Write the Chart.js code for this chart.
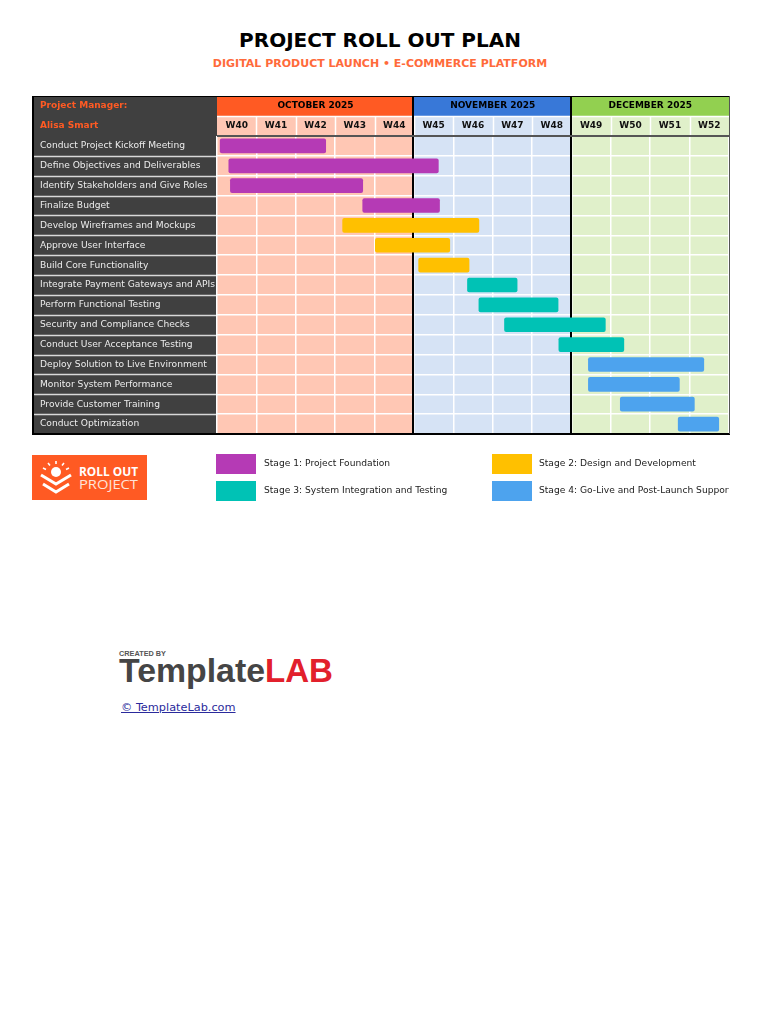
<!DOCTYPE html>
<html lang="en">
<head>
    <meta charset="UTF-8">
    <title>Project Roll Out Plan</title>
    <script src="https://cdn.jsdelivr.net/npm/chart.js@4/dist/chart.umd.min.js"></script>
    <style>
        body { margin: 0; background: #ffffff; font-family: "DejaVu Sans", sans-serif; }
        #page { position: relative; width: 768px; height: 1024px; overflow: hidden; }
        .title { position: absolute; left: 0; width: 760px; text-align: center; }
        #mainTitle { top: 27px; font-size: 20px; font-weight: bold; color: #000; line-height: 26px; }
        #subTitle { top: 57px; font-size: 11px; font-weight: bold; color: #ff6a3a; line-height: 14px; }
        #chartBox { position: absolute; left: 30px; top: 94px; width: 702px; height: 342px; }
        .swatch { position: absolute; width: 40px; height: 20px; }
        .legendText { position: absolute; font-size: 9.15px; line-height: 20px; color: #222; white-space: nowrap; }
        #legend { position: absolute; left: 0; top: 0; width: 729px; height: 520px; overflow: hidden; }
        #siteLink { position: absolute; left: 121px; top: 701px; font-size: 11.3px; color: #2a2a9c; text-decoration: underline; }
        svg { position: absolute; }
    </style>
</head>
<body>
<div id="page">
    <div class="title" id="mainTitle">PROJECT ROLL OUT PLAN</div>
    <div class="title" id="subTitle">DIGITAL PRODUCT LAUNCH • E-COMMERCE PLATFORM</div>
    <div id="chartBox"><canvas id="ganttChart"></canvas></div>
    <div id="legend"></div>

    <svg style="left:32px;top:455px" width="115" height="45" viewBox="0 0 115 45">
        <rect width="115" height="45" fill="#ff5a23"/>
        <circle cx="24" cy="17" r="5" fill="#fff"/>
        <g stroke="#fff" stroke-width="1.6" fill="none">
            <path d="M24 6v3M16 8l2 2.5M32 8l-2 2.5M11 13l3 1.5M37 13l-3 1.5"/>
            <path d="M9 20l15 9 15-9" stroke-width="3"/>
            <path d="M11 29l13 8 13-8" stroke-width="3"/>
        </g>
        <text x="47" y="21" font-family="'Open Sans'" font-weight="bold" font-size="13" fill="#fff" textLength="59" lengthAdjust="spacingAndGlyphs">ROLL OUT</text>
        <text x="47" y="34" font-family="'Open Sans'" font-size="13" fill="#ffe3d8" textLength="59" lengthAdjust="spacingAndGlyphs">PROJECT</text>
    </svg>

    <svg style="left:110px;top:645px" width="235" height="50" viewBox="0 0 235 50">
        <text x="9" y="11" font-family="'Liberation Sans'" font-weight="bold" font-size="7" fill="#555" textLength="47" lengthAdjust="spacingAndGlyphs">CREATED BY</text>
        <text x="9" y="37" font-family="'Liberation Sans'" font-weight="bold" font-size="33" fill="#454545" textLength="146" lengthAdjust="spacingAndGlyphs">Template</text>
        <text x="155" y="37" font-family="'Liberation Sans'" font-weight="bold" font-size="33" fill="#e2202c" textLength="68" lengthAdjust="spacingAndGlyphs">LAB</text>
    </svg>
    <div id="siteLink">© TemplateLab.com</div>
</div>

<script>
        const tasks = [
            'Conduct Project Kickoff Meeting',
            'Define Objectives and Deliverables',
            'Identify Stakeholders and Give Roles',
            'Finalize Budget',
            'Develop Wireframes and Mockups',
            'Approve User Interface',
            'Build Core Functionality',
            'Integrate Payment Gateways and APIs',
            'Perform Functional Testing',
            'Security and Compliance Checks',
            'Conduct User Acceptance Testing',
            'Deploy Solution to Live Environment',
            'Monitor System Performance',
            'Provide Customer Training',
            'Conduct Optimization'
        ];
        // bar start and end, in weeks counted from the start of W40
        const startWeek = [0.08, 0.30, 0.34, 3.70, 3.19, 4.02, 5.12, 6.36, 6.65, 7.30, 8.68, 9.43, 9.43, 10.24, 11.71];
        const endWeek = [2.76, 5.62, 3.70, 5.65, 6.65, 5.91, 6.40, 7.62, 8.66, 9.86, 10.33, 12.36, 11.74, 12.12, 12.74];
        const taskStage = [0, 0, 0, 0, 1, 1, 1, 2, 2, 2, 2, 3, 3, 3, 3];

        const weeks = ['W40', 'W41', 'W42', 'W43', 'W44', 'W45', 'W46', 'W47', 'W48', 'W49', 'W50', 'W51', 'W52'];
        const months = ['OCTOBER 2025', 'NOVEMBER 2025', 'DECEMBER 2025'];
        const monthWeeks = [5, 4, 4];
        const monthColors = ['#ff5a23', '#3878d8', '#92d050'];
        const monthTints = ['#ffc7b4', '#d6e3f5', '#e0f0ca'];

        const stages = [
            'Stage 1: Project Foundation',
            'Stage 2: Design and Development',
            'Stage 3: System Integration and Testing',
            'Stage 4: Go-Live and Post-Launch Support'
        ];
        const stageColors = ['#b53ab5', '#ffc000', '#00c2b5', '#4da3ee'];

        // legend under the table, two columns and two rows
        const legend = document.getElementById('legend');
        stages.forEach((name, k) => {
            const left = k % 2 ? 492 : 216;
            const top = k < 2 ? 454 : 481;
            const textLeft = k % 2 ? 539 : 264;
            legend.innerHTML += `<div class="swatch" style="left:${left}px;top:${top}px;background:${stageColors[k]}"></div>` +
                `<div class="legendText" style="left:${textLeft}px;top:${top - 1}px">${name}</div>`;
        });

        const headerPlugin = {
            id: 'headerPlugin',
            beforeDraw(chart) {
                const { ctx, chartArea, scales } = chart;
                const x = scales.x;
                const y = scales.y;
                const top = chartArea.top - 40;
                const labelLeft = 3;
                ctx.save();

                // task column and its two header rows
                ctx.fillStyle = '#404040';
                ctx.fillRect(labelLeft, top, chartArea.left - labelLeft, chartArea.bottom - top);
                ctx.font = 'bold 9px "DejaVu Sans"';
                ctx.fillStyle = '#ff5a23';
                ctx.textAlign = 'left';
                ctx.textBaseline = 'middle';
                ctx.fillText('Project Manager:', 10, top + 10);
                ctx.fillText('Alisa Smart', 10, top + 30);

                // month bands
                let first = 0;
                months.forEach((name, m) => {
                    const from = x.getPixelForValue(first);
                    const to = x.getPixelForValue(first + monthWeeks[m]);
                    ctx.fillStyle = monthTints[m];
                    ctx.fillRect(from, top + 20, to - from, chartArea.bottom - top - 20);
                    ctx.fillStyle = monthColors[m];
                    ctx.fillRect(from, top, to - from, 20);
                    ctx.fillStyle = '#000';
                    ctx.textAlign = 'center';
                    ctx.fillText(name, (from + to) / 2, top + 10);
                    first += monthWeeks[m];
                });

                // row lines through the task column
                ctx.strokeStyle = '#d8d8d8';
                ctx.lineWidth = 1.5;
                tasks.forEach((t, i) => {
                    if (i === 0) return;
                    const py = Math.round((y.getPixelForValue(i - 1) + y.getPixelForValue(i)) / 2) + 0.5;
                    ctx.beginPath();
                    ctx.moveTo(labelLeft, py);
                    ctx.lineTo(chartArea.left, py);
                    ctx.stroke();
                });
                ctx.restore();
            },
            beforeDatasetsDraw(chart) {
                const { ctx, chartArea, scales } = chart;
                const x = scales.x;
                const top = chartArea.top - 40;
                ctx.save();

                // white line under the month row
                ctx.strokeStyle = '#ffffff';
                ctx.lineWidth = 1.5;
                ctx.beginPath();
                ctx.moveTo(chartArea.left, top + 20.5);
                ctx.lineTo(chartArea.right, top + 20.5);
                ctx.stroke();
                for (let w = 1; w < weeks.length; w++) {
                    const px = Math.round(x.getPixelForValue(w)) + 0.5;
                    ctx.beginPath();
                    ctx.moveTo(px, top + 20);
                    ctx.lineTo(px, chartArea.top);
                    ctx.stroke();
                }

                // table frame
                ctx.strokeStyle = '#000';
                ctx.lineWidth = 2;
                let first = 0;
                monthWeeks.slice(0, 2).forEach(n => {
                    first += n;
                    const px = Math.floor(x.getPixelForValue(first));
                    ctx.beginPath();
                    ctx.moveTo(px, top);
                    ctx.lineTo(px, chartArea.bottom);
                    ctx.stroke();
                });
                ctx.beginPath();
                ctx.moveTo(3, top);
                ctx.lineTo(3, chartArea.bottom);
                ctx.moveTo(2, chartArea.bottom);
                ctx.lineTo(chartArea.right + 1, chartArea.bottom);
                ctx.stroke();
                ctx.lineWidth = 1;
                ctx.beginPath();
                ctx.moveTo(2, top + 0.5);
                ctx.lineTo(chartArea.right + 1, top + 0.5);
                ctx.stroke();
                ctx.strokeStyle = '#555';
                ctx.lineWidth = 2;
                ctx.beginPath();
                ctx.moveTo(chartArea.left, chartArea.top);
                ctx.lineTo(chartArea.right + 1, chartArea.top);
                ctx.stroke();
                ctx.lineWidth = 1;
                ctx.beginPath();
                ctx.moveTo(chartArea.right + 0.5, top);
                ctx.lineTo(chartArea.right + 0.5, chartArea.bottom);
                ctx.stroke();
                ctx.restore();
            }
        };

        new Chart(document.getElementById('ganttChart'), {
            type: 'bar',
            data: {
                labels: tasks,
                datasets: stages.map((name, k) => ({
                    label: name,
                    data: tasks.map((t, i) => taskStage[i] === k ? [startWeek[i], endWeek[i]] : null),
                    backgroundColor: stageColors[k],
                    borderRadius: 2,
                    borderSkipped: false,
                    barThickness: 14,
                    grouped: false
                }))
            },
            options: {
                indexAxis: 'y',
                responsive: true,
                maintainAspectRatio: false,
                animation: false,
                layout: { padding: { top: 22, right: 3, bottom: 2, left: 10 } },
                plugins: { legend: { display: false }, tooltip: { enabled: false } },
                scales: {
                    x: {
                        type: 'linear',
                        min: 0,
                        max: weeks.length,
                        position: 'bottom',
                        border: { display: false },
                        grid: { color: '#ffffff', lineWidth: 1.5, drawTicks: false },
                        ticks: { display: false, stepSize: 1 },
                        afterFit(scale) { scale.height = 0; }
                    },
                    weeks: {
                        type: 'category',
                        axis: 'x',
                        labels: weeks,
                        position: 'top',
                        offset: true,
                        border: { display: false },
                        grid: { display: false, drawTicks: false },
                        ticks: {
                            color: '#111',
                            font: { family: 'DejaVu Sans', size: 9, weight: 'bold' },
                            maxRotation: 0,
                            autoSkip: false,
                            padding: 5
                        },
                        afterFit(scale) { scale.height = 20; }
                    },
                    y: {
                        type: 'category',
                        offset: true,
                        border: { display: false },
                        grid: { color: '#ffffff', lineWidth: 1.5, drawTicks: false, offset: true },
                        ticks: {
                            color: '#ececec',
                            font: { family: 'DejaVu Sans', size: 9.15 },
                            crossAlign: 'far',
                            autoSkip: false
                        },
                        afterFit(scale) {
                            scale.width = 177;
                            // last label's half height would otherwise shrink the plot
                            scale.paddingTop = 0;
                            scale.paddingBottom = 0;
                        }
                    }
                }
            },
            plugins: [headerPlugin]
        });
</script>
</body>
</html>
